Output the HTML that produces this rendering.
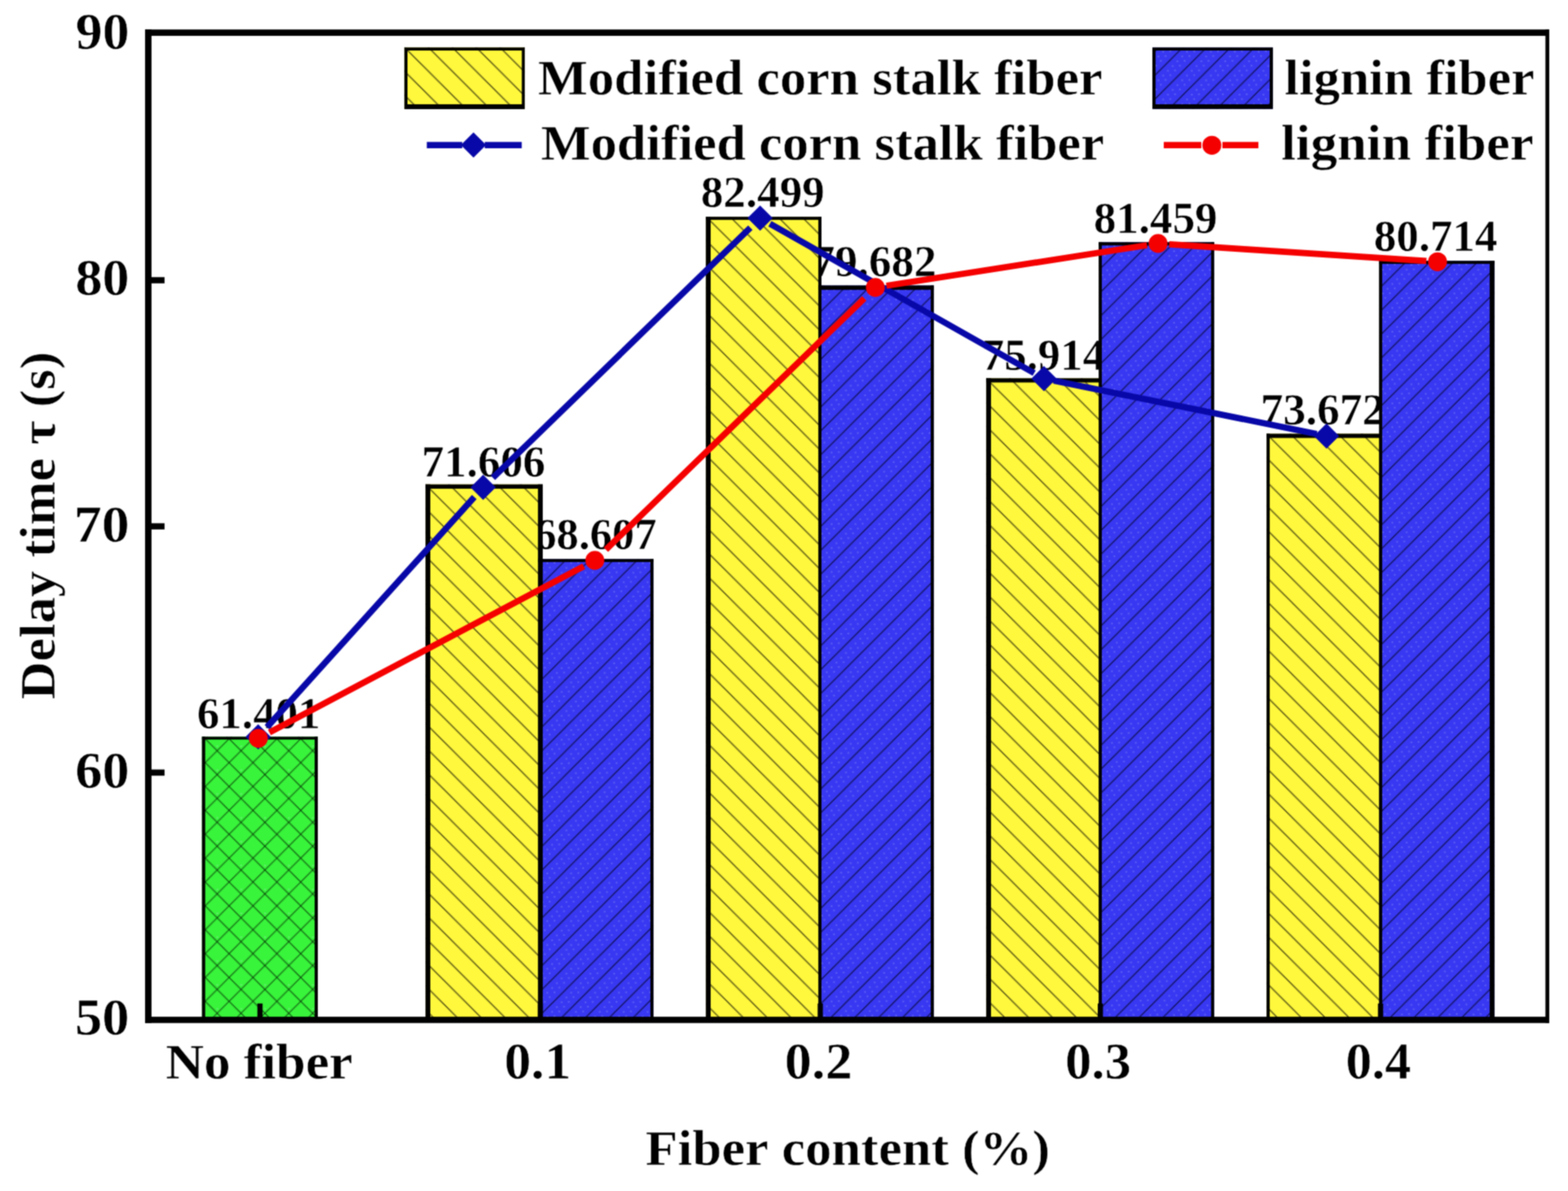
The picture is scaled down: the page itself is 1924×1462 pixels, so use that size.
<!DOCTYPE html>
<html lang="en"><head><meta charset="utf-8"><title>Delay time vs fiber content</title>
<style>
html,body{margin:0;padding:0;background:#fff;}
body{width:1924px;height:1462px;overflow:hidden;}
svg{display:block;}
text{font-family:"Liberation Serif",serif;font-weight:bold;fill:#000;font-kerning:none;white-space:pre;stroke:#fff;stroke-width:0.55px;stroke-linejoin:round;}
.t{font-size:63.0px;}
.d{font-size:54.0px;}
.m{font-size:61.0px;}
</style></head><body>
<svg width="1924" height="1462" viewBox="0 0 1924 1462" role="img" aria-label="Delay time versus fiber content">
<defs>
<filter id="soft" x="0" y="0" width="1924" height="1462" filterUnits="userSpaceOnUse" color-interpolation-filters="sRGB"><feConvolveMatrix order="3" kernelMatrix="0.0484 0.1232 0.0484 0.1232 0.3136 0.1232 0.0484 0.1232 0.0484" divisor="1" edgeMode="duplicate" preserveAlpha="true"/></filter>
<pattern id="hy" patternUnits="userSpaceOnUse" width="29.3" height="29.3">
<rect width="29.3" height="29.3" fill="#fff83c"/>
<path d="M-2,-2 L31.3,31.3 M-2,27.3 L2,31.3 M27.3,-2 L31.3,2" stroke="#000" stroke-opacity="0.76" stroke-width="1.3" fill="none"/>
</pattern>
<pattern id="hb" patternUnits="userSpaceOnUse" width="29.3" height="29.3">
<rect width="29.3" height="29.3" fill="#3838f2"/>
<path d="M-2,2 L2,-2 M-2,31.3 L31.3,-2 M27.3,31.3 L31.3,27.3" stroke="#000018" stroke-opacity="0.76" stroke-width="1.3" fill="none"/>
<g fill="#b4bcec" fill-opacity="0.46"><rect x="0.67" y="8.28" width="1.6" height="1.6"/><rect x="6.53" y="2.42" width="1.6" height="1.6"/><rect x="12.38" y="25.86" width="1.6" height="1.6"/><rect x="18.25" y="20.00" width="1.6" height="1.6"/><rect x="24.11" y="14.14" width="1.6" height="1.6"/><rect x="3.60" y="13.56" width="1.6" height="1.6"/><rect x="9.45" y="7.70" width="1.6" height="1.6"/><rect x="15.32" y="1.84" width="1.6" height="1.6"/><rect x="21.18" y="25.28" width="1.6" height="1.6"/><rect x="27.04" y="19.42" width="1.6" height="1.6"/></g>
</pattern>
<pattern id="hg" patternUnits="userSpaceOnUse" width="29.3" height="29.3">
<rect width="29.3" height="29.3" fill="#38f43a"/>
<g transform="translate(0 -1.2)"><path d="M-4,-4 L33.3,33.3 M-4,25.3 L4,33.3 M25.3,-4 L33.3,4" stroke="#001800" stroke-opacity="0.66" stroke-width="1.3" fill="none"/></g>
<path d="M-2,4.8 L4.8,-2 M0.7999999999999998,31.3 L31.3,0.7999999999999998" stroke="#001800" stroke-opacity="0.66" stroke-width="1.3" fill="none"/>
<g fill="#c8d8e8" fill-opacity="0.4"><rect x="16" y="9" width="1.8" height="1.8"/></g>
</pattern>
</defs>
<g filter="url(#soft)">
<rect width="1924" height="1462" fill="#fff"/>
<g id="labels">
<text class="d" transform="translate(241.72 894.00) scale(1.0191 1)">61.401</text>
<text class="d" transform="translate(517.24 584.60) scale(1.0234 1)">71.606</text>
<text class="d" transform="translate(655.53 674.20) scale(1.0114 1)">68.607</text>
<text class="d" transform="translate(859.96 254.00) scale(1.0238 1)">82.499</text>
<text class="d" transform="translate(996.84 339.30) scale(1.0259 1)">79.682</text>
<text class="d" transform="translate(1204.66 453.60) scale(1.0193 1)">75.914</text>
<text class="d" transform="translate(1341.96 286.30) scale(1.0238 1)">81.459</text>
<text class="d" transform="translate(1546.63 521.30) scale(1.0287 1)">73.672</text>
<text class="d" transform="translate(1685.77 308.00) scale(1.0212 1)">80.714</text>
</g>
<g id="bars">
<g transform="translate(249.80 906.10)"><rect x="-2.00" y="-1.70" width="142.20" height="347.60" fill="url(#hg)"/></g>
<rect x="247.80" y="904.40" width="4.00" height="347.60" fill="#000"/>
<rect x="386.10" y="904.40" width="3.90" height="347.60" fill="#000"/>
<rect x="247.80" y="904.40" width="142.20" height="3.40" fill="#000"/>
<g transform="translate(524.50 597.25)"><rect x="-2.40" y="-2.65" width="140.95" height="657.40" fill="url(#hy)"/></g>
<g transform="translate(664.25 688.05)"><rect x="-1.20" y="-1.85" width="138.75" height="565.80" fill="url(#hb)"/></g>
<rect x="522.10" y="594.60" width="5.90" height="657.40" fill="#000"/>
<rect x="522.10" y="594.60" width="143.90" height="5.30" fill="#000"/>
<rect x="660.10" y="686.20" width="141.70" height="3.70" fill="#000"/>
<rect x="798.10" y="686.20" width="3.70" height="565.80" fill="#000"/>
<rect x="660.10" y="594.60" width="5.90" height="657.40" fill="#000"/>
<g transform="translate(868.50 268.00)"><rect x="-2.40" y="-1.90" width="139.95" height="985.90" fill="url(#hy)"/></g>
<g transform="translate(1007.25 353.10)"><rect x="-1.20" y="-2.70" width="139.75" height="901.60" fill="url(#hb)"/></g>
<rect x="866.10" y="266.10" width="5.90" height="985.90" fill="#000"/>
<rect x="866.10" y="266.10" width="141.90" height="3.80" fill="#000"/>
<rect x="1004.10" y="350.40" width="141.70" height="5.40" fill="#000"/>
<rect x="1142.10" y="350.40" width="3.70" height="901.60" fill="#000"/>
<rect x="1004.10" y="266.10" width="3.90" height="985.90" fill="#000"/>
<g transform="translate(1212.50 466.90)"><rect x="-2.40" y="-2.60" width="139.95" height="787.70" fill="url(#hy)"/></g>
<g transform="translate(1351.25 299.30)"><rect x="-1.20" y="-2.00" width="139.75" height="954.70" fill="url(#hb)"/></g>
<rect x="1210.10" y="464.30" width="5.90" height="787.70" fill="#000"/>
<rect x="1210.10" y="464.30" width="141.90" height="5.20" fill="#000"/>
<rect x="1348.10" y="297.30" width="141.70" height="4.00" fill="#000"/>
<rect x="1486.10" y="297.30" width="3.70" height="954.70" fill="#000"/>
<rect x="1348.10" y="297.30" width="3.90" height="954.70" fill="#000"/>
<g transform="translate(1556.50 535.00)"><rect x="-2.40" y="-2.60" width="139.95" height="719.60" fill="url(#hy)"/></g>
<g transform="translate(1695.25 322.05)"><rect x="-1.20" y="-1.85" width="139.75" height="931.80" fill="url(#hb)"/></g>
<rect x="1554.10" y="532.40" width="3.90" height="719.60" fill="#000"/>
<rect x="1554.10" y="532.40" width="141.90" height="5.20" fill="#000"/>
<rect x="1692.10" y="320.20" width="141.70" height="3.70" fill="#000"/>
<rect x="1827.90" y="320.20" width="5.90" height="931.80" fill="#000"/>
<rect x="1692.10" y="320.20" width="3.90" height="931.80" fill="#000"/>
</g>
<g id="axes" fill="#000">
<rect x="178.00" y="36.20" width="1723.00" height="7.80" fill="#000"/>
<rect x="178.00" y="1248.10" width="1723.00" height="7.70" fill="#000"/>
<rect x="178.00" y="36.20" width="7.90" height="1219.60" fill="#000"/>
<rect x="1896.30" y="36.20" width="4.70" height="1219.60" fill="#000"/>
<rect x="185.00" y="340.20" width="16.90" height="7.60" fill="#000"/>
<rect x="185.00" y="642.30" width="16.90" height="7.60" fill="#000"/>
<rect x="185.00" y="944.60" width="16.90" height="7.60" fill="#000"/>
<rect x="315.80" y="1231.80" width="6.40" height="17.20" fill="#000"/>
<rect x="659.80" y="1231.80" width="6.40" height="17.20" fill="#000"/>
<rect x="1003.30" y="1231.80" width="6.40" height="17.20" fill="#000"/>
<rect x="1347.00" y="1231.80" width="6.40" height="17.20" fill="#000"/>
<rect x="1690.80" y="1231.80" width="6.40" height="17.20" fill="#000"/>
</g>
<g id="navy">
<path d="M327.61,892.60 L581.99,610.20 M604.80,586.54 L920.70,279.46 M944.70,274.59 L1269.00,458.01 M1293.00,467.24 L1615.70,532.76" stroke="#0808a8" stroke-width="7.7" stroke-linecap="butt" fill="none"/>
<path d="M316.80,889.10 l15.5,15.5 l-15.5,15.5 l-15.5,-15.5 z" fill="#0808a8"/>
<path d="M592.80,582.70 l15.5,15.5 l-15.5,15.5 l-15.5,-15.5 z" fill="#0808a8"/>
<path d="M932.70,252.30 l15.5,15.5 l-15.5,15.5 l-15.5,-15.5 z" fill="#0808a8"/>
<path d="M1281.00,449.30 l15.5,15.5 l-15.5,15.5 l-15.5,-15.5 z" fill="#0808a8"/>
<path d="M1627.70,519.70 l15.5,15.5 l-15.5,15.5 l-15.5,-15.5 z" fill="#0808a8"/>
</g>
<g id="red">
<path d="M330.60,899.11 L716.30,695.09 M743.50,674.66 L1060.50,366.14 M1087.70,350.78 L1407.40,301.02 M1434.60,299.79 L1750.30,320.41" stroke="#f50000" stroke-width="7.7" stroke-linecap="butt" fill="none"/>
<circle cx="317.00" cy="906.30" r="11.6" fill="#f50000"/>
<circle cx="729.90" cy="687.90" r="11.6" fill="#f50000"/>
<circle cx="1074.10" cy="352.90" r="11.6" fill="#f50000"/>
<circle cx="1421.00" cy="298.90" r="11.6" fill="#f50000"/>
<circle cx="1763.90" cy="321.30" r="11.6" fill="#f50000"/>
</g>
<g id="legend">
<g transform="translate(498.4 60.2)"><rect x="-2.2" y="-2" width="147.8" height="75.6" fill="url(#hy)"/></g>
<path fill-rule="evenodd" fill="#000" d="M496.2,58.2 H643.9 V134.0 H496.2 Z M500.0,62.0 V127.9 H640.3 V62.0 Z"/>
<g transform="translate(1419.9 60.3)"><rect x="-5.7" y="-1.8" width="147.7" height="75.4" fill="url(#hb)"/></g>
<path fill-rule="evenodd" fill="#000" d="M1414.0,58.2 H1561.9 V133.8 H1414.0 Z M1417.9,62.0 V128.0 H1558.0 V62.0 Z"/>
<text class="m" transform="translate(660.09 115.60) scale(1.0622 1)">Modified corn stalk fiber</text>
<text class="m" transform="translate(1575.94 115.60) scale(1.0596 1)">lignin fiber</text>
<path d="M523.7,178.1 L567.2,178.1 M594.8,178.1 L640.2,178.1" stroke="#0808a8" stroke-width="7.7" fill="none"/>
<path d="M581,162.6 l15.5,15.5 l-15.5,15.5 l-15.5,-15.5 z" fill="#0808a8"/>
<path d="M1428,178.1 L1474,178.1 M1500,178.1 L1544.1,178.1" stroke="#f50000" stroke-width="7.7" fill="none"/>
<circle cx="1487.0" cy="178.3" r="11.6" fill="#f50000"/>
<text class="m" transform="translate(663.69 196.40) scale(1.0601 1)">Modified corn stalk fiber</text>
<text class="m" transform="translate(1571.93 196.40) scale(1.0693 1)">lignin fiber</text>
</g>
<g id="ticklabels">
<text class="t" transform="translate(92.80 59.90) scale(1.0462 1)">90</text>
<text class="t" transform="translate(92.40 362.30) scale(1.0528 1)">80</text>
<text class="t" transform="translate(90.71 664.70) scale(1.0807 1)">70</text>
<text class="t" transform="translate(92.33 967.10) scale(1.0539 1)">60</text>
<text class="t" transform="translate(91.92 1269.50) scale(1.0606 1)">50</text>
<text class="m" transform="translate(203.16 1324.40) scale(1.0674 1)">No fiber</text>
<text class="t" transform="translate(618.69 1324.40) scale(1.0453 1)">0.1</text>
<text class="t" transform="translate(962.87 1324.40) scale(1.0537 1)">0.2</text>
<text class="t" transform="translate(1306.93 1324.40) scale(1.0297 1)">0.3</text>
<text class="t" transform="translate(1651.16 1324.40) scale(1.0189 1)">0.4</text>
</g>
<text class="m" transform="translate(791.89 1430.30) scale(1.0621 1)">Fiber content (%)</text>
<text class="m" transform="translate(67.4 858.74) rotate(-90) scale(1.0614 1)">Delay time τ (s)</text>
</g>
</svg>
</body></html>
